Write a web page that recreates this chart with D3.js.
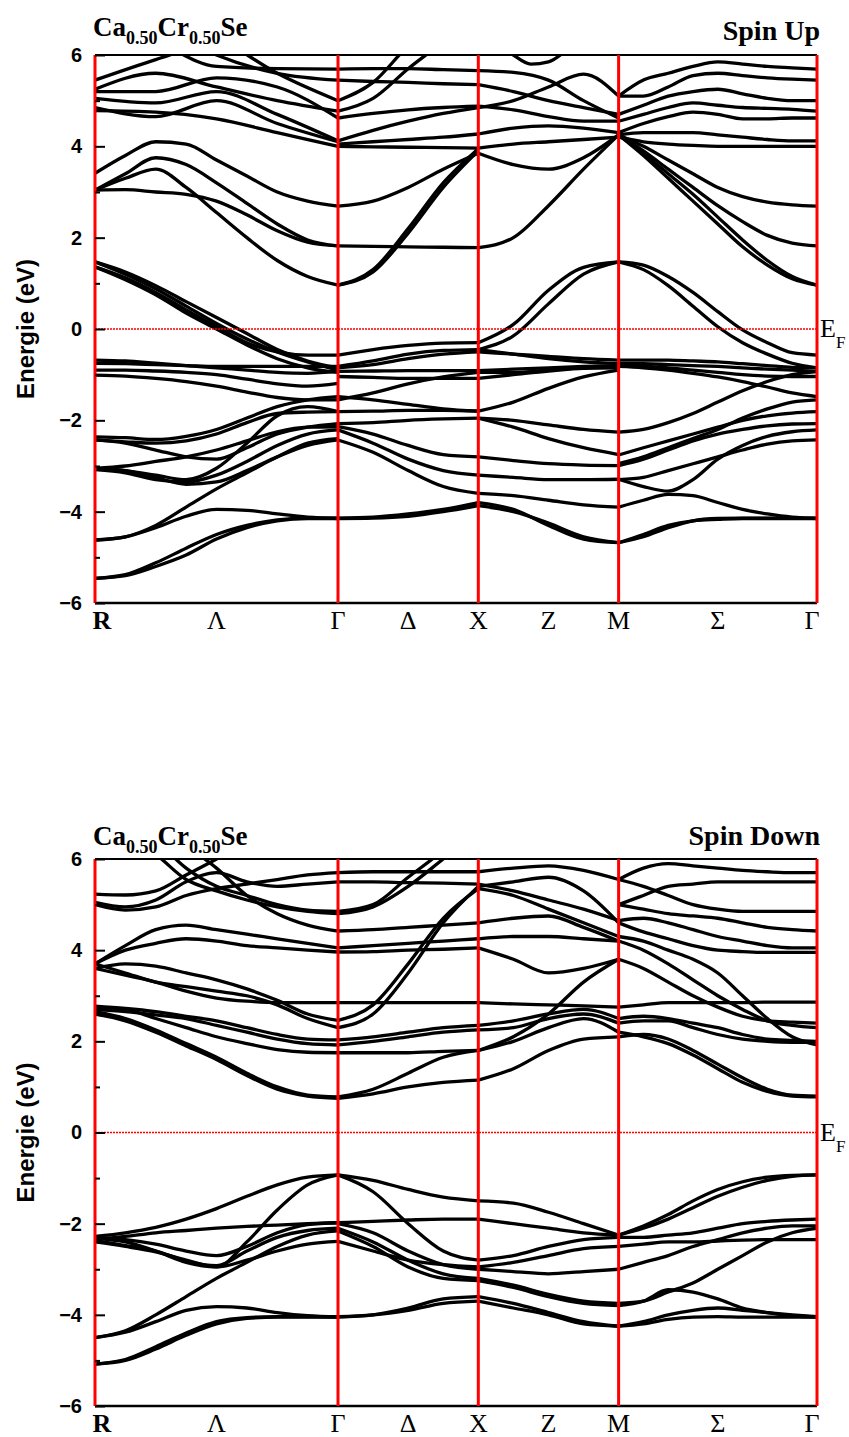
<!DOCTYPE html>
<html>
<head>
<meta charset="utf-8">
<script src="https://cdnjs.cloudflare.com/ajax/libs/d3/7.8.5/d3.min.js"></script>
<style>
  body { margin: 0; background: #fff; }
</style>
</head>
<body>
<svg id="chart" width="849" height="1437"></svg>
<script>
// k-path labels (label sits in the middle of each segment for the greek ones)
var kLabels = ["R", "Λ", "Γ", "Δ", "X", "Z", "M", "Σ", "Γ"];
var kLabelPos = [0, 0.866, 1.732, 2.232, 2.732, 3.232, 3.732, 4.439, 5.146];
var symPoints = [0, 1.732, 2.732, 3.732, 5.146];
var majorTicks = [6, 4, 2, 0, -2, -4, -6];
var minorTicks = [5, 3, 1, -1, -3, -5];

// spin up bands, one list per segment, values equally spaced along the segment
var upRG = [
  [5.45, 5.9, 6.3, 6.5, 6.4],
  [6.8, 6.3, 5.75, 5.7, 5.69],
  [7.0, 6.7, 6.0, 5.6, 5.45],
  [7.0, 6.9, 6.4, 5.6, 5.0],
  [5.25, 5.6, 5.3, 5.0, 4.77],
  [5.2, 5.2, 5.5, 5.3, 4.62],
  [5.05, 4.95, 5.2, 4.7, 4.12],
  [4.85, 4.65, 5.0, 4.5, 4.1],
  [4.78, 4.75, 4.6, 4.3, 4.0],
  [3.41, 3.8, 4.1, 4.05, 3.7, 3.35, 3.0, 2.8, 2.69],
  [3.04, 3.4, 3.75, 3.6, 3.2, 2.75, 2.3, 1.95, 1.82],
  [3.04, 3.3, 3.5, 3.1, 2.55, 2.0, 1.5, 1.15, 0.96],
  [3.04, 3.05, 3.0, 2.95, 2.8, 2.5, 2.15, 1.9, 1.82],
  [1.47, 1.25, 0.95, 0.6, 0.25, -0.1, -0.45, -0.7, -0.85],
  [1.47, 1.2, 0.88, 0.5, 0.12, -0.22, -0.5, -0.72, -0.9],
  [1.36, 1.12, 0.8, 0.42, 0.05, -0.3, -0.5, -0.57, -0.57],
  [1.36, 1.08, 0.75, 0.35, 0.0, -0.35, -0.65, -0.85, -0.95],
  [-0.68, -0.7, -0.75, -0.8, -0.85, -0.9, -0.95, -0.97, -0.93],
  [-0.75, -0.76, -0.78, -0.8, -0.82, -0.82, -0.82, -0.82, -0.82],
  [-0.9, -0.9, -0.92, -0.95, -1.0, -1.1, -1.2, -1.25, -1.19],
  [-1.01, -1.03, -1.08, -1.15, -1.25, -1.38, -1.5, -1.55, -1.55],
  [-2.36, -2.38, -2.42, -2.35, -2.2, -1.95, -1.7, -1.55, -1.48],
  [-2.43, -2.47, -2.5, -2.45, -2.3, -2.05, -1.85, -1.82, -1.81],
  [-2.43, -2.5, -2.65, -2.8, -2.85, -2.6, -2.3, -2.15, -2.07],
  [-3.05, -3.0, -2.9, -2.8, -2.65, -2.45, -2.25, -2.15, -2.14],
  [-3.05, -3.1, -3.2, -3.3, -3.05, -2.5, -1.9, -1.7, -1.81],
  [-3.08, -3.15, -3.3, -3.35, -3.2, -2.9, -2.55, -2.3, -2.21],
  [-3.05, -3.1, -3.25, -3.4, -3.35, -3.1, -2.8, -2.55, -2.43],
  [-4.62, -4.55, -4.35, -4.1, -3.95, -3.97, -4.05, -4.12, -4.15],
  [-4.62, -4.55, -4.3, -3.9, -3.5, -3.15, -2.8, -2.5, -2.4],
  [-5.46, -5.4, -5.2, -4.95, -4.6, -4.35, -4.2, -4.15, -4.15],
  [-5.46, -5.38, -5.12, -4.8, -4.5, -4.3, -4.18, -4.14, -4.14]
];
var upGX = [
  [5.69, 5.7, 5.7, 5.68, 5.66],
  [5.45, 5.42, 5.4, 5.37, 5.35],
  [5.0, 5.4, 6.2, 6.8, 7.0],
  [4.77, 5.05, 5.7, 6.3, 7.0],
  [4.62, 4.72, 4.8, 4.85, 4.88],
  [4.12, 4.35, 4.55, 4.72, 4.85],
  [4.05, 4.1, 4.15, 4.2, 4.27],
  [4.0, 3.99, 3.98, 3.97, 3.96],
  [2.69, 2.8, 3.1, 3.5, 3.85],
  [0.96, 1.3, 2.2, 3.2, 3.95],
  [0.96, 1.25, 2.1, 3.1, 3.9],
  [1.82, 1.81, 1.8, 1.79, 1.78],
  [-0.57, -0.45, -0.36, -0.31, -0.3],
  [-0.82, -0.7, -0.55, -0.47, -0.45],
  [-0.85, -0.78, -0.65, -0.55, -0.5],
  [-0.93, -0.92, -0.91, -0.91, -0.91],
  [-1.04, -1.06, -1.08, -1.08, -1.08],
  [-1.55, -1.4, -1.2, -1.05, -0.95],
  [-1.81, -1.8, -1.78, -1.78, -1.8],
  [-1.48, -1.55, -1.65, -1.75, -1.8],
  [-2.07, -2.05, -2.0, -1.97, -1.95],
  [-2.14, -2.3, -2.55, -2.75, -2.8],
  [-2.21, -2.5, -2.85, -3.1, -3.2],
  [-2.43, -2.7, -3.1, -3.45, -3.6],
  [-4.15, -4.14, -4.1, -4.0, -3.87],
  [-4.14, -4.12, -4.05, -3.95, -3.8]
];
var upXM = [
  [6.6, 6.3, 6.0, 5.8, 5.85, 6.1, 6.5, 6.8, 7.0],
  [5.66, 5.62, 5.45, 5.0, 4.62],
  [4.85, 5.0, 5.3, 5.58, 5.1],
  [5.35, 5.2, 5.0, 4.85, 4.7],
  [4.88, 4.8, 4.65, 4.55, 4.55],
  [4.27, 4.4, 4.45, 4.4, 4.3],
  [3.96, 4.05, 4.1, 4.15, 4.2],
  [3.85, 3.6, 3.5, 3.75, 4.25],
  [1.78, 2.0, 2.7, 3.5, 4.25],
  [-0.3, 0.1, 0.85, 1.35, 1.47],
  [-0.45, -0.15, 0.55, 1.2, 1.47],
  [-0.45, -0.55, -0.65, -0.72, -0.76],
  [-0.5, -0.55, -0.6, -0.65, -0.68],
  [-0.91, -0.88, -0.85, -0.82, -0.8],
  [-1.08, -1.0, -0.92, -0.86, -0.85],
  [-0.95, -0.95, -0.9, -0.85, -0.82],
  [-1.8, -1.6, -1.3, -1.05, -0.9],
  [-1.95, -2.0, -2.1, -2.2, -2.26],
  [-1.95, -2.15, -2.4, -2.6, -2.75],
  [-2.8, -2.88, -2.95, -2.98, -2.99],
  [-3.2, -3.25, -3.3, -3.3, -3.29],
  [-3.6, -3.65, -3.75, -3.85, -3.9],
  [-3.87, -4.0, -4.25, -4.55, -4.68],
  [-3.8, -3.95, -4.3, -4.6, -4.68]
];
var upMG = [
  [5.1, 5.45, 5.6, 5.75, 5.85, 5.8, 5.75, 5.72, 5.69],
  [5.1, 5.1, 5.3, 5.55, 5.6, 5.55, 5.5, 5.47, 5.45],
  [4.7, 4.9, 5.1, 5.2, 5.25, 5.15, 5.05, 5.0, 5.0],
  [4.55, 4.7, 4.85, 4.95, 4.9, 4.85, 4.83, 4.81, 4.77],
  [4.3, 4.5, 4.65, 4.75, 4.7, 4.6, 4.6, 4.62, 4.62],
  [4.25, 4.3, 4.3, 4.3, 4.25, 4.2, 4.15, 4.12, 4.12],
  [4.2, 4.1, 4.05, 4.02, 4.0, 4.0, 4.0, 4.0, 4.0],
  [4.25, 4.0, 3.7, 3.4, 3.1, 2.9, 2.78, 2.72, 2.69],
  [4.25, 3.9, 3.5, 3.1, 2.7, 2.35, 2.05, 1.88, 1.82],
  [4.25, 3.85, 3.4, 2.95, 2.45, 1.95, 1.5, 1.15, 0.96],
  [4.25, 3.8, 3.3, 2.8, 2.3, 1.8, 1.4, 1.1, 0.96],
  [1.47, 1.4, 1.15, 0.8, 0.38, -0.02, -0.3, -0.52, -0.57],
  [1.47, 1.3, 0.95, 0.5, 0.05, -0.3, -0.55, -0.75, -0.85],
  [-0.68, -0.68, -0.68, -0.7, -0.72, -0.76, -0.8, -0.84, -0.85],
  [-0.76, -0.76, -0.78, -0.8, -0.82, -0.85, -0.88, -0.9, -0.93],
  [-0.8, -0.82, -0.85, -0.9, -0.95, -1.0, -1.03, -1.04, -1.04],
  [-0.82, -0.85, -0.9, -0.97, -1.05, -1.15, -1.27, -1.4, -1.48],
  [-2.26, -2.2, -2.05, -1.85, -1.6, -1.35, -1.15, -1.0, -0.93],
  [-2.76, -2.6, -2.45, -2.3, -2.15, -2.0, -1.9, -1.84, -1.81],
  [-2.99, -2.85, -2.65, -2.45, -2.3, -2.2, -2.12, -2.08, -2.07],
  [-2.95, -2.8, -2.6, -2.4, -2.2, -1.95, -1.75, -1.6, -1.55],
  [-3.29, -3.45, -3.55, -3.3, -2.85, -2.55, -2.35, -2.25, -2.21],
  [-3.3, -3.25, -3.1, -2.95, -2.8, -2.65, -2.52, -2.45, -2.43],
  [-3.9, -3.75, -3.62, -3.65, -3.8, -3.95, -4.05, -4.12, -4.15],
  [-4.68, -4.55, -4.35, -4.2, -4.15, -4.14, -4.14, -4.14, -4.14],
  [-4.68, -4.5, -4.3, -4.2, -4.17, -4.15, -4.15, -4.15, -4.15]
];

// spin down bands
var dnRG = [
  [5.23, 5.21, 5.3, 5.65, 6.0, 6.4, 6.7, 6.9, 7.0],
  [5.0, 4.88, 4.95, 5.2, 5.35, 5.45, 5.55, 5.65, 5.7],
  [5.05, 4.95, 5.1, 5.5, 5.7, 5.5, 5.4, 5.45, 5.5],
  [7.0, 6.5, 6.1, 5.55, 5.3, 5.1, 4.95, 4.85, 4.8],
  [7.0, 6.8, 6.4, 5.8, 5.4, 5.2, 5.0, 4.88, 4.85],
  [7.0, 7.0, 6.8, 6.3, 5.8, 5.2, 4.8, 4.55, 4.42],
  [3.7, 4.0, 4.15, 4.25, 4.2, 4.1, 4.05, 4.0, 3.96],
  [3.7, 4.1, 4.45, 4.55, 4.45, 4.35, 4.25, 4.15, 4.05],
  [3.6, 3.7, 3.65, 3.5, 3.35, 3.15, 2.9, 2.6, 2.46],
  [3.6, 3.45, 3.3, 3.1, 2.95, 2.88, 2.85, 2.85, 2.85],
  [3.7, 3.5, 3.3, 3.2, 3.1, 3.0, 2.8, 2.5, 2.3],
  [2.77, 2.72, 2.65, 2.55, 2.45, 2.3, 2.15, 2.05, 2.03],
  [2.7, 2.65, 2.58, 2.5, 2.35, 2.2, 2.05, 1.95, 1.92],
  [2.6, 2.45, 2.2, 1.9, 1.6, 1.25, 0.95, 0.8, 0.75],
  [2.65, 2.5, 2.25, 1.95, 1.65, 1.3, 1.0, 0.82, 0.78],
  [2.75, 2.7, 2.5, 2.3, 2.1, 1.95, 1.82, 1.76, 1.75],
  [-2.28, -2.2, -2.08, -1.9, -1.67, -1.4, -1.15, -0.98, -0.93],
  [-2.32, -2.4, -2.6, -2.85, -2.95, -2.4, -1.7, -1.15, -0.93],
  [-2.35, -2.28, -2.2, -2.15, -2.1, -2.06, -2.03, -2.0, -1.98],
  [-2.4, -2.5, -2.62, -2.8, -2.95, -2.8, -2.6, -2.45, -2.39],
  [-2.38, -2.48, -2.6, -2.82, -2.92, -2.6, -2.3, -2.15, -2.1],
  [-2.3, -2.35, -2.45, -2.6, -2.7, -2.5, -2.2, -2.02, -1.98],
  [-4.5, -4.35, -4.0, -3.6, -3.2, -2.85, -2.5, -2.25, -2.16],
  [-4.5, -4.38, -4.15, -3.9, -3.82, -3.85, -3.95, -4.02, -4.05],
  [-5.08, -5.0, -4.75, -4.45, -4.2, -4.08, -4.05, -4.05, -4.05],
  [-5.08, -4.98, -4.7, -4.4, -4.15, -4.06, -4.04, -4.04, -4.04]
];
var dnGX = [
  [5.7, 5.72, 5.72, 5.72, 5.72],
  [5.5, 5.5, 5.48, 5.47, 5.45],
  [4.85, 5.0, 5.6, 6.2, 7.0],
  [4.8, 4.95, 5.4, 6.0, 6.6],
  [4.42, 4.45, 4.5, 4.55, 4.6],
  [4.05, 4.1, 4.15, 4.2, 4.25],
  [3.96, 3.97, 4.0, 4.02, 4.05],
  [2.3, 2.6, 3.5, 4.6, 5.4],
  [2.46, 2.8, 3.7, 4.7, 5.35],
  [2.85, 2.85, 2.85, 2.85, 2.85],
  [2.03, 2.1, 2.2, 2.3, 2.35],
  [1.92, 2.0, 2.1, 2.2, 2.25],
  [1.75, 1.75, 1.75, 1.78, 1.8],
  [0.78, 0.95, 1.3, 1.65, 1.8],
  [0.75, 0.85, 1.0, 1.1, 1.15],
  [-0.93, -1.05, -1.25, -1.42, -1.5],
  [-0.93, -1.3, -2.0, -2.6, -2.8],
  [-1.98, -1.95, -1.92, -1.9, -1.9],
  [-2.0, -2.2, -2.6, -2.9, -3.0],
  [-2.1, -2.4, -2.8, -3.1, -3.2],
  [-2.16, -2.5, -2.95, -3.2, -3.25],
  [-2.39, -2.6, -2.8, -2.9, -2.95],
  [-4.05, -4.0, -3.85, -3.65, -3.6],
  [-4.04, -4.0, -3.9, -3.75, -3.7]
];
var dnXM = [
  [5.72, 5.8, 5.85, 5.75, 5.55],
  [5.45, 5.3, 5.1, 4.9, 4.65],
  [5.4, 5.5, 5.6, 5.3, 4.6],
  [5.35, 5.2, 4.9, 4.6, 4.3],
  [4.6, 4.7, 4.75, 4.5, 4.2],
  [4.25, 4.3, 4.3, 4.25, 4.2],
  [4.05, 3.8, 3.5, 3.6, 3.8],
  [2.85, 2.82, 2.8, 2.78, 2.75],
  [2.35, 2.45, 2.6, 2.7, 2.5],
  [2.25, 2.3, 2.5, 2.6, 2.4],
  [1.8, 2.0, 2.3, 2.5, 2.2],
  [1.15, 1.4, 1.8, 2.05, 2.1],
  [1.8, 2.1, 2.6, 3.3, 3.8],
  [-1.5, -1.55, -1.75, -2.0, -2.25],
  [-1.9, -2.0, -2.1, -2.2, -2.25],
  [-2.8, -2.7, -2.5, -2.35, -2.3],
  [-2.95, -2.85, -2.7, -2.55, -2.5],
  [-3.0, -3.05, -3.1, -3.05, -3.0],
  [-3.2, -3.35, -3.55, -3.7, -3.75],
  [-3.25, -3.4, -3.6, -3.75, -3.8],
  [-3.6, -3.75, -3.95, -4.15, -4.25],
  [-3.7, -3.85, -4.0, -4.2, -4.25]
];
var dnMG = [
  [5.55, 5.8, 5.9, 5.85, 5.8, 5.75, 5.72, 5.7, 5.7],
  [5.0, 5.2, 5.4, 5.45, 5.5, 5.5, 5.5, 5.5, 5.5],
  [5.55, 5.4, 5.2, 5.0, 4.9, 4.85, 4.85, 4.85, 4.85],
  [5.0, 4.9, 4.8, 4.75, 4.7, 4.6, 4.5, 4.45, 4.42],
  [4.65, 4.7, 4.6, 4.45, 4.3, 4.2, 4.1, 4.05, 4.05],
  [4.6, 4.4, 4.25, 4.1, 4.0, 3.97, 3.95, 3.95, 3.95],
  [4.3, 4.2, 4.0, 3.8, 3.5, 3.0, 2.5, 2.1, 1.92],
  [4.2, 4.0, 3.7, 3.35, 3.0, 2.7, 2.45, 2.35, 2.3],
  [3.8, 3.6, 3.3, 3.0, 2.75, 2.55, 2.45, 2.42, 2.4],
  [2.75, 2.8, 2.85, 2.85, 2.85, 2.85, 2.86, 2.86, 2.86],
  [2.5, 2.55, 2.5, 2.4, 2.3, 2.15, 2.05, 2.02, 2.0],
  [2.4, 2.45, 2.45, 2.3, 2.15, 2.05, 2.0, 1.98, 1.98],
  [2.2, 2.1, 1.95, 1.7, 1.4, 1.1, 0.9, 0.8, 0.78],
  [2.1, 2.15, 2.05, 1.8, 1.5, 1.2, 0.95, 0.82, 0.8],
  [-2.25, -2.1, -1.9, -1.65, -1.4, -1.2, -1.05, -0.96, -0.93],
  [-2.25, -2.05, -1.8, -1.5, -1.25, -1.08, -0.98, -0.94, -0.93],
  [-2.3, -2.3, -2.25, -2.2, -2.1, -2.0, -1.95, -1.92, -1.9],
  [-2.5, -2.45, -2.4, -2.4, -2.38, -2.36, -2.35, -2.35, -2.35],
  [-3.0, -2.85, -2.7, -2.5, -2.35, -2.2, -2.1, -2.05, -2.05],
  [-3.75, -3.7, -3.5, -3.3, -3.0, -2.7, -2.4, -2.2, -2.1],
  [-3.8, -3.7, -3.45, -3.5, -3.65, -3.85, -3.95, -4.02, -4.05],
  [-4.25, -4.2, -4.1, -4.05, -4.04, -4.05, -4.05, -4.05, -4.05],
  [-4.25, -4.15, -4.0, -3.9, -3.85, -3.9, -3.95, -4.0, -4.04]
];

var svg = d3.select("#chart");

function drawPanel(cfg, segments) {
    var x = d3.scaleLinear().domain([0, symPoints[symPoints.length - 1]]).range([95, 817]);
    var y = d3.scaleLinear().domain([-6, 6]).range([cfg.bottom, cfg.top]);

    var g = svg.append("g");

    g.append("clipPath").attr("id", cfg.id + "-clip")
      .append("rect")
        .attr("x", x(0)).attr("y", cfg.top)
        .attr("width", x(symPoints[4]) - x(0))
        .attr("height", cfg.bottom - cfg.top);

    var line = d3.line()
        .x(function(d) { return x(d[0]); })
        .y(function(d) { return y(d[1]); })
        .curve(d3.curveMonotoneX);

    // bands
    var bands = g.append("g").attr("clip-path", "url(#" + cfg.id + "-clip)");
    segments.forEach(function(seg, i) {
        var k0 = symPoints[i], k1 = symPoints[i + 1];
        seg.forEach(function(vals) {
            var pts = vals.map(function(v, j) {
                return [k0 + (k1 - k0) * j / (vals.length - 1), v];
            });
            bands.append("path")
                .attr("d", line(pts))
                .attr("fill", "none")
                .attr("stroke", "#000")
                .attr("stroke-width", 3.3)
                .attr("stroke-linejoin", "round");
        });
    });

    // fermi level
    g.append("line")
        .attr("x1", x(0)).attr("x2", x(symPoints[4]))
        .attr("y1", y(0)).attr("y2", y(0))
        .attr("stroke", "#ff0000")
        .attr("stroke-width", 1.5)
        .attr("stroke-dasharray", "2,1");

    // frame top and bottom
    g.append("line").attr("x1", x(0)).attr("x2", x(symPoints[4]))
        .attr("y1", cfg.top).attr("y2", cfg.top)
        .attr("stroke", "#000").attr("stroke-width", 2);
    g.append("line").attr("x1", x(0)).attr("x2", x(symPoints[4]))
        .attr("y1", cfg.bottom).attr("y2", cfg.bottom)
        .attr("stroke", "#000").attr("stroke-width", 2.5);

    // high symmetry lines
    g.selectAll(".sym")
      .data(symPoints)
      .enter().append("line")
        .attr("x1", function(d) { return x(d); })
        .attr("x2", function(d) { return x(d); })
        .attr("y1", cfg.top).attr("y2", cfg.bottom)
        .attr("stroke", "#ff0000")
        .attr("stroke-width", 3);

    // inward ticks
    g.append("g")
        .attr("transform", "translate(" + x(0) + ",0)")
        .call(d3.axisRight(y).tickValues(majorTicks).tickSize(10).tickFormat(""))
        .call(function(a) { a.select(".domain").remove(); a.selectAll("line").attr("stroke-width", 2); });
    g.append("g")
        .attr("transform", "translate(" + x(0) + ",0)")
        .call(d3.axisRight(y).tickValues(minorTicks).tickSize(5).tickFormat(""))
        .call(function(a) { a.select(".domain").remove(); a.selectAll("line").attr("stroke-width", 2); });

    // tick labels
    g.append("g")
        .attr("transform", "translate(" + x(0) + ",0)")
        .call(d3.axisLeft(y).tickValues(majorTicks).tickSize(0).tickPadding(13).tickFormat(d3.format("d")))
        .call(function(a) {
            a.select(".domain").remove();
            a.selectAll("text")
                .attr("font-family", "'Liberation Sans', Arial, sans-serif")
                .attr("font-weight", "bold")
                .attr("font-size", 20)
                .attr("fill", "#000");
        });

    // k labels
    g.selectAll(".klab")
      .data(kLabels)
      .enter().append("text")
        .attr("x", function(d, i) { return x(kLabelPos[i]) + (i == 0 ? 7 : (i == 8 ? -5 : 0)); })
        .attr("y", cfg.bottom + 26)
        .attr("text-anchor", "middle")
        .attr("font-family", "'Liberation Serif', 'Times New Roman', serif")
        .attr("font-size", 26)
        .attr("font-weight", function(d, i) { return i == 0 ? "bold" : "normal"; })
        .text(function(d) { return d; });

    // axis title
    g.append("text")
        .attr("transform", "translate(34," + y(0) + ") rotate(-90)")
        .attr("text-anchor", "middle")
        .attr("font-family", "'Liberation Sans', Arial, sans-serif")
        .attr("font-weight", "bold")
        .attr("font-size", 24)
        .text("Energie (eV)");

    // compound title
    var t = g.append("text")
        .attr("x", 93).attr("y", cfg.titleY)
        .attr("font-family", "'Liberation Serif', 'Times New Roman', serif")
        .attr("font-weight", "bold")
        .attr("font-size", 27);
    t.append("tspan").text("Ca");
    t.append("tspan").attr("dy", 8).attr("font-size", 18).text("0.50");
    t.append("tspan").attr("dy", -8).text("Cr");
    t.append("tspan").attr("dy", 8).attr("font-size", 18).text("0.50");
    t.append("tspan").attr("dy", -8).text("Se");

    g.append("text")
        .attr("x", 820).attr("y", cfg.spinY)
        .attr("text-anchor", "end")
        .attr("font-family", "'Liberation Serif', 'Times New Roman', serif")
        .attr("font-weight", "bold")
        .attr("font-size", 28)
        .text(cfg.spin);

    // E_F label
    var ef = g.append("text")
        .attr("x", 820).attr("y", y(0) + 8)
        .attr("font-family", "'Liberation Serif', 'Times New Roman', serif")
        .attr("font-size", 26);
    ef.append("tspan").text("E");
    ef.append("tspan").attr("dy", 11).attr("font-size", 17).text("F");
}

drawPanel({id: "up", top: 55, bottom: 603, titleY: 36, spinY: 40, spin: "Spin Up"}, [upRG, upGX, upXM, upMG]);
drawPanel({id: "dn", top: 859, bottom: 1406, titleY: 845, spinY: 845, spin: "Spin Down"}, [dnRG, dnGX, dnXM, dnMG]);
</script>
</body>
</html>
